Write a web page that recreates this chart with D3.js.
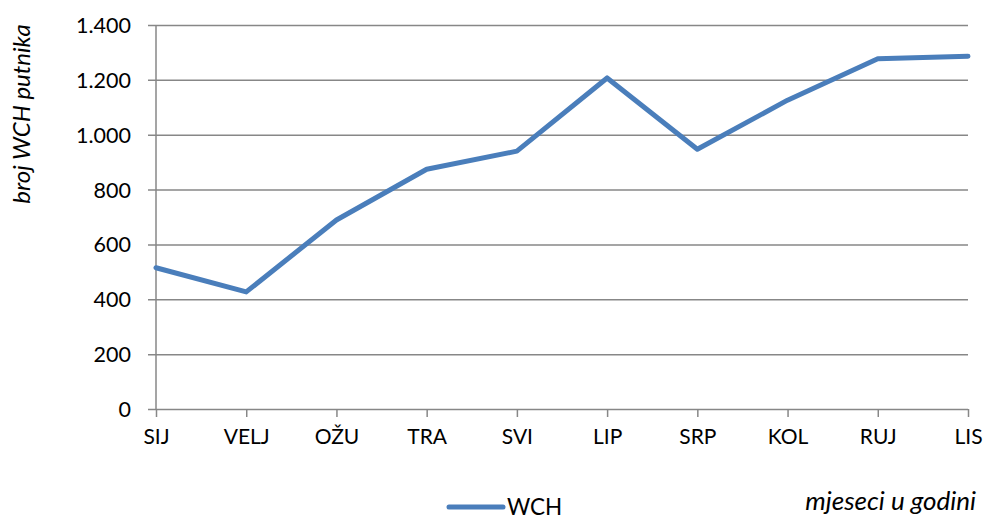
<!DOCTYPE html>
<html>
<head>
<meta charset="utf-8">
<script src="https://cdn.jsdelivr.net/npm/d3@7"></script>
<style>
  body { margin: 0; background: #fff; }
  svg { display: block; }
  svg text { font-family: Lato, "Open Sans", sans-serif; }
</style>
</head>
<body>
<script>
// months and WCH passenger counts
const months = ["SIJ", "VELJ", "OŽU", "TRA", "SVI", "LIP", "SRP", "KOL", "RUJ", "LIS"];
const wch = [515, 427, 689, 874, 940, 1207, 947, 1126, 1277, 1286];
const yTicks = [0, 200, 400, 600, 800, 1000, 1200, 1400];

const width = 986, height = 519;
const plotLeft = 156, plotRight = 968, plotTop = 25, plotBottom = 409;

const svg = d3.select("body").append("svg")
    .attr("width", width)
    .attr("height", height);

const x = d3.scalePoint()
    .domain(months)
    .range([plotLeft, plotRight]);

const y = d3.scaleLinear()
    .domain([0, 1400])
    .range([plotBottom, plotTop]);

const fmt = d => d3.format(",")(d).replace(/,/g, ".");

// horizontal gridlines + y ticks
svg.append("g")
  .attr("transform", `translate(${plotLeft},0)`)
  .call(d3.axisLeft(y).tickValues(yTicks).tickSize(0).tickPadding(25).tickFormat(fmt))
  .attr("font-family", null)
  .call(g => g.select(".domain").remove())
  .call(g => g.selectAll(".tick line").attr("stroke", "#878787").attr("stroke-width", 1.5).attr("x1", -8).attr("x2", plotRight - plotLeft))
  .call(g => g.selectAll(".tick text").attr("font-size", 21.5).attr("fill", "#000").attr("dy", "0.35em"));

// y axis line
svg.append("line")
  .attr("x1", plotLeft).attr("x2", plotLeft)
  .attr("y1", plotTop).attr("y2", plotBottom)
  .attr("stroke", "#878787").attr("stroke-width", 1.5);

// x axis
svg.append("g")
  .attr("transform", `translate(0,${plotBottom})`)
  .call(d3.axisBottom(x).tickSize(8).tickPadding(12))
  .attr("font-family", null)
  .call(g => g.select(".domain").remove())
  .call(g => g.selectAll(".tick line").attr("stroke", "#878787").attr("stroke-width", 1.5))
  .call(g => g.selectAll(".tick text").attr("font-size", 21).attr("fill", "#000"));

// series
const line = d3.line()
  .x((d, i) => x(months[i]))
  .y(d => y(d));

svg.append("path")
  .datum(wch)
  .attr("fill", "none")
  .attr("stroke", "#4a7ebb")
  .attr("stroke-width", 5)
  .attr("stroke-linejoin", "round")
  .attr("stroke-linecap", "round")
  .attr("d", line);

// axis titles
svg.append("text")
  .attr("transform", "translate(30,114) rotate(-90)")
  .attr("text-anchor", "middle")
  .attr("font-size", 24)
  .attr("font-style", "italic")
  .text("broj WCH putnika");

svg.append("text")
  .attr("x", 976).attr("y", 510)
  .attr("text-anchor", "end")
  .attr("font-size", 26)
  .attr("font-style", "italic")
  .text("mjeseci u godini");

// legend
svg.append("line")
  .attr("x1", 449).attr("x2", 503)
  .attr("y1", 507).attr("y2", 507)
  .attr("stroke", "#4a7ebb").attr("stroke-width", 5)
  .attr("stroke-linecap", "round");

svg.append("text")
  .attr("x", 507).attr("y", 515)
  .attr("font-size", 22.5)
  .text("WCH");
</script>
</body>
</html>
